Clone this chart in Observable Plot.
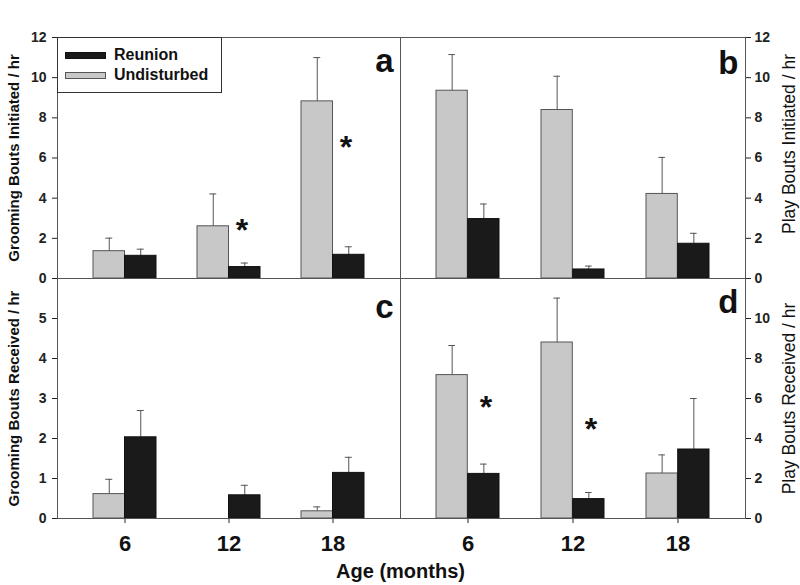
<!DOCTYPE html>
<html>
<head>
<meta charset="utf-8">
<script src="https://cdn.jsdelivr.net/npm/d3@7"></script>
<script src="https://cdn.jsdelivr.net/npm/@observablehq/plot@0.6"></script>
<style>
  html, body { margin: 0; padding: 0; background: #fff; }
  #chart { position: relative; width: 800px; height: 585px; overflow: hidden; font-family: "Liberation Sans", Arial, sans-serif; }
  #chart .panel { position: absolute; }
  #legend { position: absolute; left: 57px; top: 37px; width: 163px; height: 54px; border: 1px solid #333; background: #fff; z-index: 5; }
  #legend .sw { position: absolute; left: 7px; width: 39px; height: 5px; }
  #legend .lab { position: absolute; left: 56px; font-size: 16px; font-weight: bold; color: #111; line-height: 16px; }
</style>
</head>
<body>
<div id="chart"></div>
<script>
// ---- data ----
const ages = ["6", "12", "18"];
const groups = ["Reunion", "Undisturbed"];
const panelLetters = ["a", "b", "c", "d"];
const axisTitles = ["Grooming Bouts Initiated / hr", "Play Bouts Initiated / hr", "Grooming Bouts Received / hr", "Play Bouts Received / hr"];
const xTitle = "Age (months)";

// a: grooming bouts initiated
const groomInitUndisturbed = [1.36, 2.60, 8.82];
const groomInitUndisturbedSE = [0.65, 1.61, 2.18];
const groomInitReunion = [1.13, 0.57, 1.18];
const groomInitReunionSE = [0.33, 0.20, 0.40];
// b: play bouts initiated
const playInitUndisturbed = [9.35, 8.39, 4.21];
const playInitUndisturbedSE = [1.80, 1.68, 1.82];
const playInitReunion = [2.96, 0.45, 1.73];
const playInitReunionSE = [0.75, 0.17, 0.52];
// c: grooming bouts received
const groomRecUndisturbed = [0.61, 0, 0.18];
const groomRecUndisturbedSE = [0.37, 0, 0.11];
const groomRecReunion = [2.03, 0.58, 1.14];
const groomRecReunionSE = [0.67, 0.25, 0.39];
// d: play bouts received
const playRecUndisturbed = [7.17, 8.80, 2.25];
const playRecUndisturbedSE = [1.48, 2.22, 0.93];
const playRecReunion = [2.23, 0.97, 3.45];
const playRecReunionSE = [0.49, 0.33, 2.55];

// significance markers (*)
const sigAgesA = ["12", "18"];
const sigYA = [2.71, 6.87];
const sigAgesD = ["6", "12"];
const sigYD = [5.87, 4.78];

// axis ticks
const ticksA = [0, 2, 4, 6, 8, 10, 12];
const ticksB = [0, 2, 4, 6, 8, 10, 12];
const ticksC = [0, 1, 2, 3, 4, 5];
const ticksD = [0, 2, 4, 6, 8, 10];
const domainA = [0, 12], domainB = [0, 12], domainC = [0, 6], domainD = [0, 12];

// ---- drawing ----
const FONT = "Liberation Sans, Arial, sans-serif";
const GRAY = "#c8c8c8", BLACK = "#1a1a1a", LINE = "#555";

function panel(o) {
  const right = o.side === "right";
  const U = ages.map((a, i) => ({age: a, group: groups[1], value: o.undist[i], se: o.undistSE[i]})).filter(d => d.value > 0);
  const R = ages.map((a, i) => ({age: a, group: groups[0], value: o.reun[i], se: o.reunSE[i]})).filter(d => d.value > 0);
  const sig = o.sigAges ? o.sigAges.map((a, i) => ({age: a, y: o.sigY[i]})) : [];
  const bw = o.bw, q = bw / 4, cap = 3.5;
  const marks = [
    Plot.ruleX(U, {x: "age", y1: "value", y2: d => d.value + d.se, dx: -q, stroke: LINE, strokeWidth: 1}),
    Plot.tickY(U, {x: "age", y: d => d.value + d.se, insetLeft: q - cap, insetRight: bw - q - cap, stroke: LINE, strokeWidth: 1}),
    Plot.ruleX(R, {x: "age", y1: "value", y2: d => d.value + d.se, dx: q, stroke: LINE, strokeWidth: 1}),
    Plot.tickY(R, {x: "age", y: d => d.value + d.se, insetLeft: bw - q - cap, insetRight: q - cap, stroke: LINE, strokeWidth: 1}),
    Plot.barY(U, {x: "age", y: "value", insetRight: bw / 2, fill: GRAY, stroke: LINE, strokeWidth: 1}),
    Plot.barY(R, {x: "age", y: "value", insetLeft: bw / 2, fill: BLACK, stroke: "#111", strokeWidth: 1}),
    Plot.frame({stroke: LINE, strokeWidth: 1}),
    Plot.text([o.title], {
      frameAnchor: right ? "right" : "left", rotate: -90, textAnchor: "middle", lineAnchor: "middle",
      dx: right ? 44 : -43, dy: o.titleDy || 0,
      fontSize: right ? 17.5 : 15, fontWeight: right ? "normal" : "bold", fill: "#111"
    }),
    Plot.text([o.letter], {
      frameAnchor: "top-right", textAnchor: "end", lineAnchor: "top",
      dx: -7, dy: o.letterDy, fontSize: 33, fontWeight: "bold", fill: "#111"
    }),
    Plot.text(sig, {x: "age", y: "y", text: () => "*", dx: o.sigDx || 0, dy: 7, fontSize: 32, fontWeight: "bold", fill: "#111", lineAnchor: "middle"})
  ];
  if (o.bottom) {
    marks.push(Plot.text(ages, {x: d => d, frameAnchor: "bottom", lineAnchor: "bottom", dy: 32, fontSize: 22, fontWeight: "bold", fill: "#111"}));
  }
  if (o.xTitle) {
    marks.push(Plot.text([o.xTitle], {frameAnchor: "bottom-right", textAnchor: "middle", lineAnchor: "bottom", dy: 59, fontSize: 20, fontWeight: "bold", fill: "#111"}));
  }
  return Plot.plot({
    width: 400,
    height: o.height,
    marginLeft: right ? 0 : 57,
    marginRight: right ? 55 : 0,
    marginTop: o.marginTop,
    marginBottom: o.marginBottom,
    style: {fontFamily: FONT, fontSize: "14px", fontWeight: "bold", overflow: "visible", background: "transparent", color: "#222"},
    x: o.bottom
      ? {domain: ages, paddingInner: 0.397, paddingOuter: 0.34, tickSize: 5, tickFormat: () => "", label: null}
      : {domain: ages, paddingInner: 0.397, paddingOuter: 0.34, axis: null, label: null},
    y: {domain: o.domain, ticks: o.ticks, tickFormat: d => String(d), axis: right ? "right" : "left", tickSize: 5, tickPadding: right ? 4 : 6, label: null},
    marks
  });
}

const chart = document.getElementById("chart");
function place(svg, left, top) {
  svg.classList.add("panel");
  svg.style.left = left + "px";
  svg.style.top = top + "px";
  chart.appendChild(svg);
}

place(panel({undist: groomInitUndisturbed, undistSE: groomInitUndisturbedSE, reun: groomInitReunion, reunSE: groomInitReunionSE,
  domain: domainA, ticks: ticksA, side: "left", title: axisTitles[0], letter: panelLetters[0], letterDy: 11,
  sigAges: sigAgesA, sigY: sigYA, sigDx: 13, bw: 63.0, height: 278, marginTop: 37, marginBottom: 0}), 0, 0);

place(panel({undist: playInitUndisturbed, undistSE: playInitUndisturbedSE, reun: playInitReunion, reunSE: playInitReunionSE,
  domain: domainB, ticks: ticksB, side: "right", title: axisTitles[1], titleDy: -14, letter: panelLetters[1], letterDy: 13,
  bw: 63.4, height: 278, marginTop: 37, marginBottom: 0}), 400, 0);

place(panel({undist: groomRecUndisturbed, undistSE: groomRecUndisturbedSE, reun: groomRecReunion, reunSE: groomRecReunionSE,
  domain: domainC, ticks: ticksC, side: "left", title: axisTitles[2], letter: panelLetters[2], letterDy: 16,
  bottom: true, xTitle: xTitle, bw: 63.0, height: 307, marginTop: 0, marginBottom: 67}), 0, 278);

place(panel({undist: playRecUndisturbed, undistSE: playRecUndisturbedSE, reun: playRecReunion, reunSE: playRecReunionSE,
  domain: domainD, ticks: ticksD, side: "right", title: axisTitles[3], letter: panelLetters[3], letterDy: 11,
  sigAges: sigAgesD, sigY: sigYD, sigDx: 18, bottom: true, bw: 63.4, height: 307, marginTop: 0, marginBottom: 67}), 400, 278);

// legend (HTML, above panel a)
const legend = document.createElement("div");
legend.id = "legend";
const legendFills = {Reunion: BLACK, Undisturbed: GRAY};
groups.forEach((g, i) => {
  const sw = document.createElement("div");
  sw.className = "sw";
  sw.style.top = (14 + i * 20) + "px";
  sw.style.background = legendFills[g];
  sw.style.border = "1px solid " + (g === "Reunion" ? "#111" : LINE);
  legend.appendChild(sw);
  const lab = document.createElement("div");
  lab.className = "lab";
  lab.style.top = (9 + i * 20) + "px";
  lab.textContent = g;
  legend.appendChild(lab);
});
chart.appendChild(legend);
</script>
</body>
</html>
